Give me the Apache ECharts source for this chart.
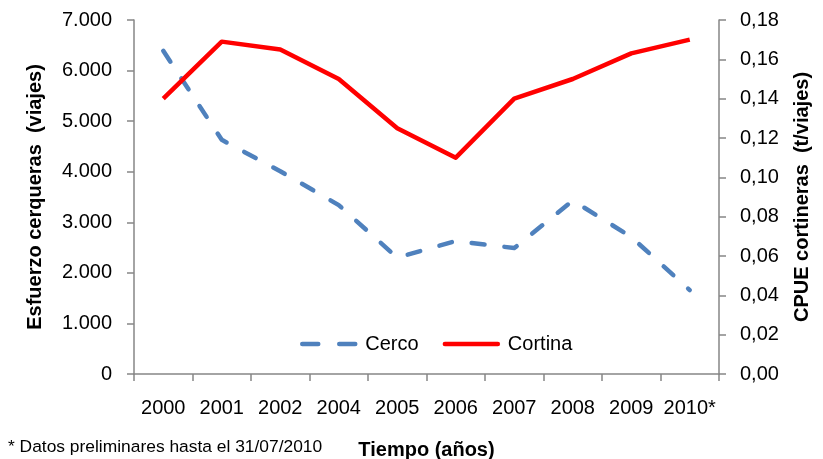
<!DOCTYPE html>
<html>
<head>
    <meta charset="utf-8">
    <title>Esfuerzo y CPUE</title>
    <script src="https://cdn.jsdelivr.net/npm/echarts@6/dist/echarts.min.js"></script>
    <style>
        html, body { margin: 0; padding: 0; background: #fff; }
        #main { width: 823px; height: 459px; }
    </style>
</head>
<body>
<div id="main"></div>
<script type="text/javascript">
    // datos
    var years = ['2000', '2001', '2002', '2004', '2005', '2006', '2007', '2008', '2009', '2010*'];
    var cerco = [6390, 4630, 4010, 3340, 2300, 2630, 2490, 3430, 2710, 1660];
    var cortina = [0.140, 0.169, 0.165, 0.150, 0.125, 0.110, 0.140, 0.150, 0.163, 0.170];

    var font = '"Liberation Sans", Arial, sans-serif';
    var axisGray = '#868686';

    var myChart = echarts.init(document.getElementById('main'));

    var option = {
        animation: false,
        textStyle: { fontFamily: font },
        grid: { left: 134, right: 104, top: 20, bottom: 85, outerBoundsMode: 'none', containLabel: false },
        legend: {
            left: 295,
            top: 329,
            itemWidth: 53,
            itemHeight: 20,
            itemGap: 24,
            itemStyle: { opacity: 0 },
            lineStyle: { width: 4.5, cap: 'round' },
            textStyle: { fontSize: 20, color: '#000', fontFamily: font, padding: [0, 0, 0, 5] },
            data: [
                { name: 'Cerco', lineStyle: { type: [16, 21], width: 4.5, cap: 'round' } },
                { name: 'Cortina' }
            ]
        },
        xAxis: {
            type: 'category',
            data: years,
            axisLine: { lineStyle: { color: axisGray, width: 1.5 } },
            axisTick: { show: true, length: 7, lineStyle: { color: axisGray, width: 1.5 } },
            axisLabel: { fontSize: 20, color: '#000', margin: 24, interval: 0 },
            name: 'Tiempo (años)',
            nameLocation: 'middle',
            nameGap: 66,
            nameTextStyle: { fontSize: 20, fontWeight: 'bold', color: '#000' }
        },
        yAxis: [
            {
                type: 'value',
                min: 0, max: 7000, interval: 1000,
                splitLine: { show: false },
                axisLine: { show: true, lineStyle: { color: axisGray, width: 1.5 } },
                axisTick: { show: true, length: 7, lineStyle: { color: axisGray, width: 1.5 } },
                axisLabel: {
                    fontSize: 20, color: '#000', margin: 22,
                    formatter: function (v) {
                        return v === 0 ? '0' : (v / 1000).toFixed(3);
                    }
                },
                name: 'Esfuerzo cerqueras  (viajes)',
                nameLocation: 'middle',
                nameGap: 89,
                nameTextStyle: { fontSize: 20, fontWeight: 'bold', color: '#000' }
            },
            {
                type: 'value',
                min: 0, max: 0.18, interval: 0.02,
                splitLine: { show: false },
                axisLine: { show: true, lineStyle: { color: axisGray, width: 1.5 } },
                axisTick: { show: true, length: 7, lineStyle: { color: axisGray, width: 1.5 } },
                axisLabel: {
                    fontSize: 20, color: '#000', margin: 21,
                    formatter: function (v) { return v.toFixed(2).replace('.', ','); }
                },
                name: 'CPUE cortineras  (t/viajes)',
                nameLocation: 'middle',
                nameGap: 73,
                nameTextStyle: { fontSize: 20, fontWeight: 'bold', color: '#000' }
            }
        ],
        graphic: [
            {
                type: 'text',
                left: 8,
                top: 439,
                style: {
                    text: '* Datos preliminares hasta el 31/07/2010',
                    font: '17.4px ' + font,
                    fill: '#000'
                }
            }
        ],
        series: [
            {
                name: 'Cerco',
                type: 'line',
                yAxisIndex: 0,
                data: cerco,
                symbol: 'none',
                color: '#4F81BD',
                lineStyle: { color: '#4F81BD', width: 4.5, type: [13, 20], cap: 'round', join: 'round' }
            },
            {
                name: 'Cortina',
                type: 'line',
                yAxisIndex: 1,
                data: cortina,
                symbol: 'none',
                color: '#FF0000',
                lineStyle: { color: '#FF0000', width: 4.5, join: 'round' }
            }
        ]
    };

    myChart.setOption(option);
</script>
</body>
</html>
